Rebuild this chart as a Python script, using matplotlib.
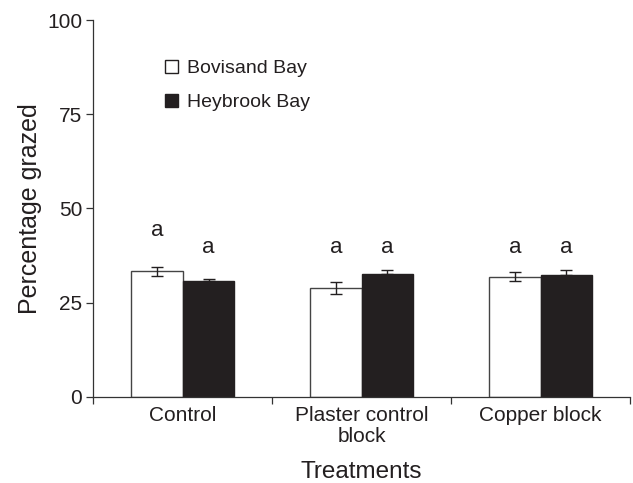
import matplotlib
matplotlib.use("Agg")
import matplotlib.pyplot as plt
from matplotlib.patches import Patch
import numpy as np

plt.rcParams['font.family'] = ['Liberation Sans', 'DejaVu Sans']

# Data
treatments = ["Control", "Plaster control\nblock", "Copper block"]
sites = ["Bovisand Bay", "Heybrook Bay"]
bovisand_mean = [33.3, 28.9, 31.9]
bovisand_se = [1.2, 1.6, 1.3]
heybrook_mean = [30.7, 32.7, 32.2]
heybrook_se = [0.6, 1.05, 1.4]
bovisand_letters = ["a", "a", "a"]
heybrook_letters = ["a", "a", "a"]
letter_heights = {"bovisand": [42.7, 38.1, 38.1], "heybrook": [38.1, 38.1, 38.1]}

ink = "#231f20"
edge = "#444444"

fig = plt.figure(figsize=(6.33, 4.83), dpi=100)
ax = fig.add_axes([93.3 / 633, 1 - 396.7 / 483, (630 - 93.3) / 633, (396.7 - 20) / 483])

x = np.arange(len(treatments)) + 0.5
w = 0.288

ax.bar(x - w / 2, bovisand_mean, w, color="white", edgecolor=edge, linewidth=1.0, zorder=2)
ax.bar(x + w / 2, heybrook_mean, w, color=ink, edgecolor=ink, linewidth=1.0, zorder=2)

# Error bars: Bovisand symmetric, Heybrook shown above the bar only
ax.errorbar(x - w / 2, bovisand_mean, yerr=bovisand_se, fmt="none", ecolor=ink,
            elinewidth=1.0, capsize=4, capthick=1.0, zorder=3)
ax.errorbar(x + w / 2, heybrook_mean, yerr=[np.zeros(3), heybrook_se], fmt="none",
            ecolor=ink, elinewidth=1.0, capsize=4, capthick=1.0, zorder=1)

for i in range(len(treatments)):
    ax.text(x[i] - w / 2, letter_heights["bovisand"][i], bovisand_letters[i],
            ha="center", va="baseline", fontsize=16, color=ink)
    ax.text(x[i] + w / 2, letter_heights["heybrook"][i], heybrook_letters[i],
            ha="center", va="baseline", fontsize=16, color=ink)

ax.set_xlim(0, 3)
ax.set_ylim(0, 100)

for s in ["top", "right"]:
    ax.spines[s].set_visible(False)
for s in ["left", "bottom"]:
    ax.spines[s].set_color("#333333")
    ax.spines[s].set_linewidth(0.9)

ax.set_yticks([0, 25, 50, 75, 100])
ax.tick_params(axis="y", direction="out", length=5, width=0.9, color="#333333",
               labelsize=15, labelcolor=ink, pad=3)

ax.set_xticks([0, 1, 2, 3])
ax.set_xticklabels([])
ax.tick_params(axis="x", which="major", direction="out", length=5, width=0.9, color="#333333")
ax.set_xticks(x, minor=True)
ax.set_xticklabels(treatments, minor=True, fontsize=15, color=ink, linespacing=1.1)
ax.tick_params(axis="x", which="minor", length=0, pad=7)

ax.set_xlabel("Treatments", fontsize=17.5, color=ink, labelpad=11)
ax.set_ylabel("Percentage grazed", fontsize=18, color=ink, labelpad=4)

handles = [Patch(facecolor="white", edgecolor=ink, linewidth=1.0),
           Patch(facecolor=ink, edgecolor=ink, linewidth=1.0)]
ax.legend(handles, sites, loc="upper left", bbox_to_anchor=(0.12, 0.915), frameon=False,
          fontsize=14, handlelength=0.65, handleheight=0.65, handletextpad=0.45,
          labelspacing=0.85, labelcolor=ink, borderaxespad=0)

fig.savefig("out.png", dpi=100)
